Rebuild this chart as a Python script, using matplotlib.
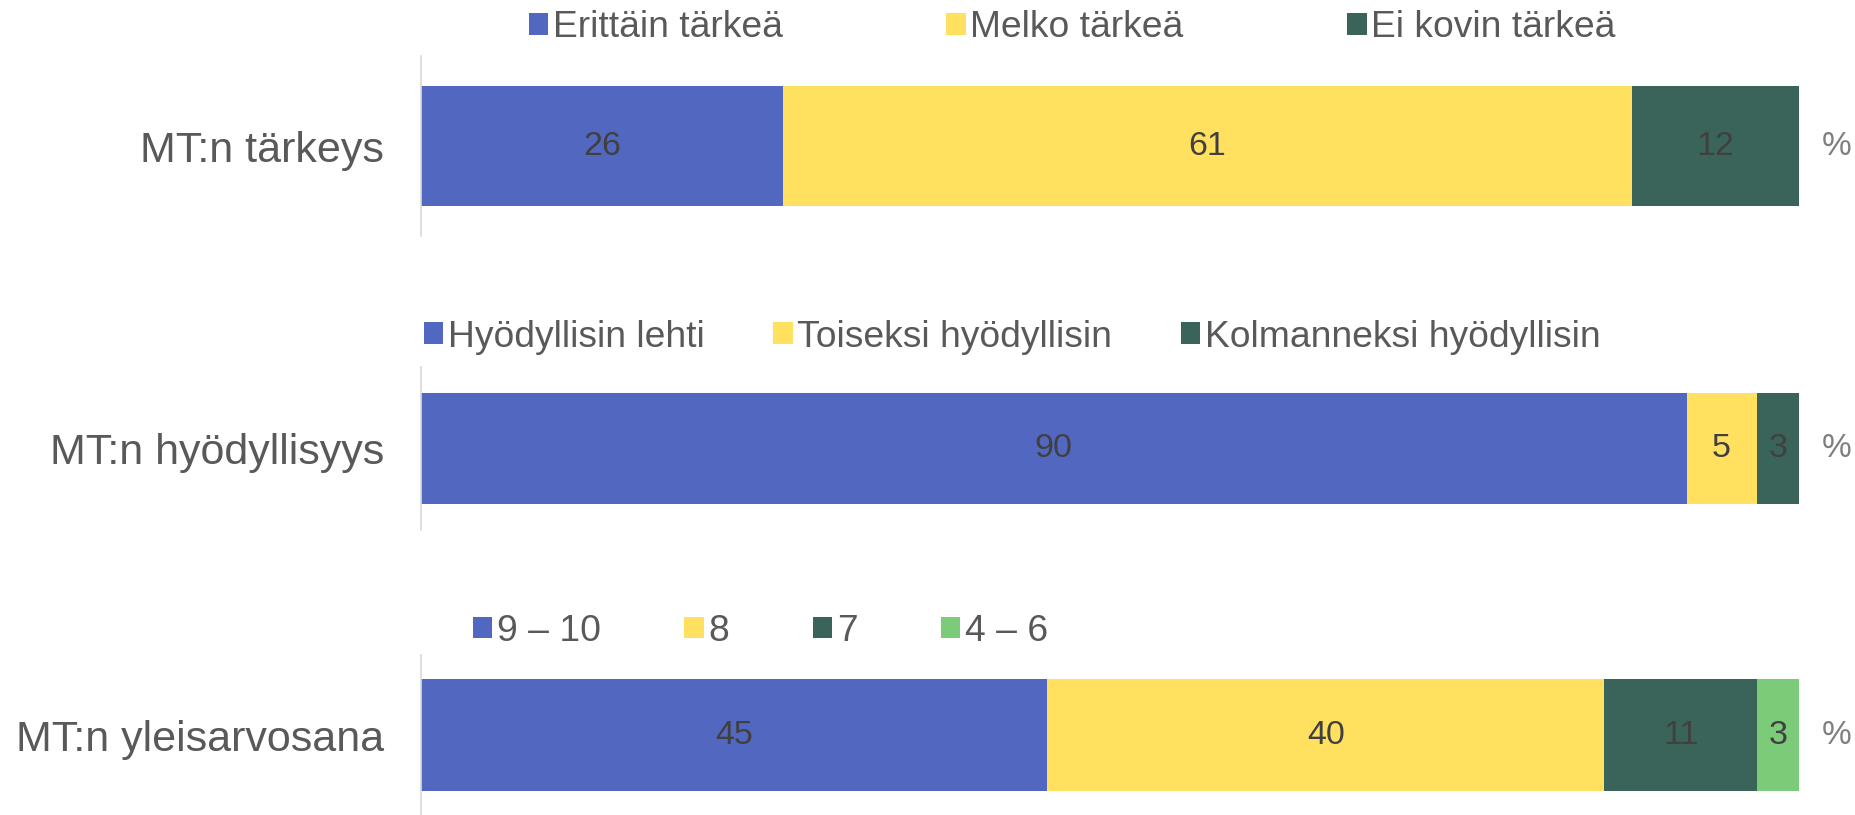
import matplotlib
matplotlib.use('Agg')
import matplotlib.pyplot as plt
from matplotlib.patches import Patch

matplotlib.rcParams['font.family'] = ['Liberation Sans', 'DejaVu Sans']

# 数据
rivit = ['MT:n tärkeys', 'MT:n hyödyllisyys', 'MT:n yleisarvosana']

tarkeys_luokat = ['Erittäin tärkeä', 'Melko tärkeä', 'Ei kovin tärkeä']
tarkeys_arvot = [26, 61, 12]

hyoty_luokat = ['Hyödyllisin lehti', 'Toiseksi hyödyllisin', 'Kolmanneksi hyödyllisin']
hyoty_arvot = [90, 5, 3]

arvosana_luokat = ['9 – 10', '8', '7', '4 – 6']
arvosana_arvot = [45, 40, 11, 3]

colors = ['#5268C0', '#FFE05F', '#3A6359', '#7CCB78']
TEXT = '#595959'
LABEL = '#404040'


def draw_panel(fig, rect, title, cats, vals, bar_h, leg_xy, colspace):
    ax = fig.add_axes(rect)
    total = sum(vals)
    left = 0
    for i, v in enumerate(vals):
        w = v / total * 100  # 100 % pinottu pylväs
        bars = ax.barh([0], [w], left=left, height=bar_h, color=colors[i], edgecolor='none')
        ax.bar_label(bars, labels=[str(v)], label_type='center', fontsize=24.5, color=LABEL)
        left += w
    ax.set_xlim(0, 100)
    ax.set_ylim(-0.5, 0.5)
    ax.set_yticks([0])
    ax.set_yticklabels([title], fontsize=31, color=TEXT)
    ax.tick_params(axis='y', length=0, pad=26.5)
    ax.set_xticks([])
    for s in ['top', 'right', 'bottom']:
        ax.spines[s].set_visible(False)
    ax.spines['left'].set_color('#D9D9D9')
    ax.spines['left'].set_linewidth(1.2)
    ax.annotate('%', xy=(1, 0.5), xycoords='axes fraction', xytext=(27, 0),
                textcoords='offset points', ha='center', va='center',
                fontsize=24, color='#7F7F7F')
    handles = [Patch(facecolor=colors[i], edgecolor='none') for i in range(len(cats))]
    fig.legend(handles, cats, loc='center left', bbox_to_anchor=leg_xy,
               ncol=len(cats), frameon=False, fontsize=26.8, labelcolor=TEXT,
               handlelength=0.52, handleheight=0.52, handletextpad=0.12,
               columnspacing=colspace, borderpad=0, borderaxespad=0)
    return ax


fig = plt.figure(figsize=(18.56, 8.15), dpi=100)

draw_panel(fig, [0.2268, 0.7104, 0.7425, 0.2209], rivit[0], tarkeys_luokat, tarkeys_arvot,
           0.672, (0.285, 0.9657), 4.4)
draw_panel(fig, [0.2268, 0.3497, 0.7425, 0.2000], rivit[1], hyoty_luokat, hyoty_arvot,
           0.68, (0.2284, 0.5865), 1.85)
draw_panel(fig, [0.2268, 0.0, 0.7425, 0.1963], rivit[2], arvosana_luokat, arvosana_arvot,
           0.70, (0.2548, 0.2257), 2.25)

fig.savefig('out.png', dpi=100)
